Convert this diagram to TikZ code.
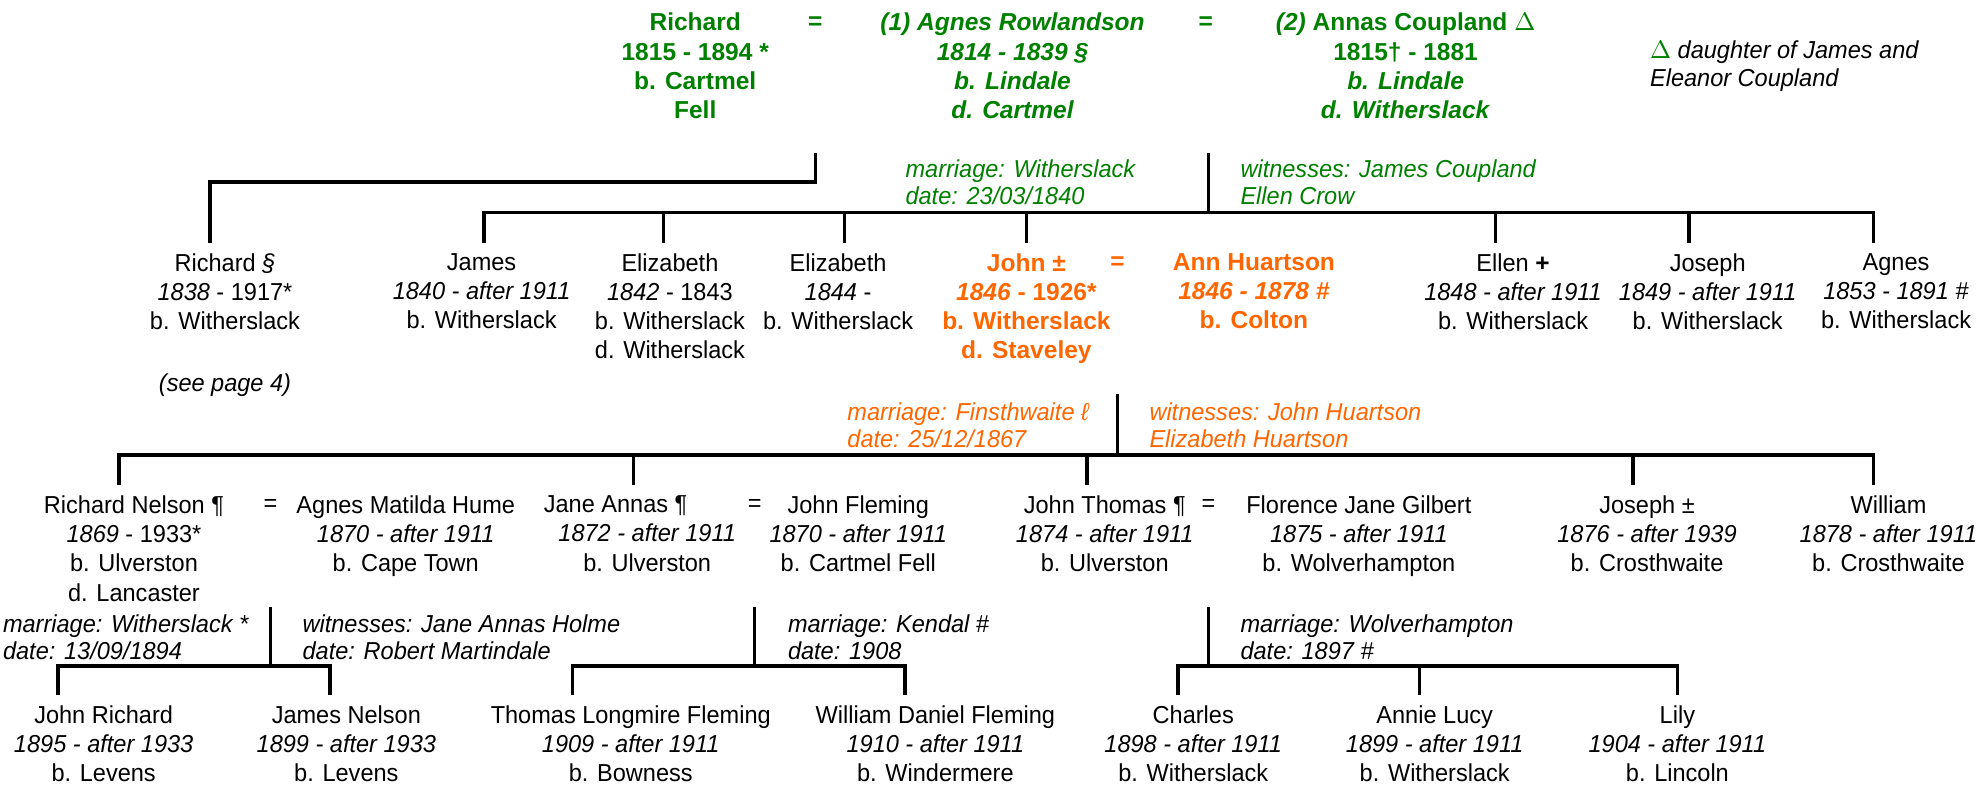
\documentclass[tikz,border=0pt]{standalone}
\usepackage{fontspec}
\setmainfont{Liberation Sans}[UprightFeatures={FakeStretch=0.96},
  ItalicFeatures={FakeStretch=0.96}]

\definecolor{wedgreen}{RGB}{0,128,0}
\definecolor{wedorange}{RGB}{255,102,0}

\begin{document}
\begin{tikzpicture}[x=0.5pt,y=-0.5pt,line width=1.4pt,
      base/.style={inner sep=0pt,font=\fontsize{9.7}{11.5}\selectfont},
      person/.style={base,anchor=north,align=center},
      elder/.style={person,text=wedgreen,font=\fontsize{9.7}{11.5}\selectfont\bfseries},
      heir/.style={person,text=wedorange,font=\fontsize{9.7}{11.5}\selectfont\bfseries},
      eqsign/.style={base,anchor=base},
      wed/.style={base,anchor=north west,align=left,
        font=\fontsize{9.7}{10.75}\selectfont\itshape},
      drop/.style={to path={-| (\tikztotarget)},shorten >=3.5pt}]

    \useasboundingbox (0,0) rectangle (1568,623);

    \node[elder] (rich1) at (550,9) {Richard\\1815 - 1894 *\\b. Cartmel\\Fell};
    \node[eqsign,text=wedgreen,font=\fontsize{9.7}{11.5}\selectfont\bfseries] (eq1) at (645,23) {=};
    \node[elder,font=\fontsize{9.7}{11.5}\selectfont\bfseries\itshape] (agnes1) at (801,9)
      {(1) Agnes Rowlandson\\1814 - 1839 §\\b. Lindale\\d. Cartmel};
    \node[eqsign,text=wedgreen,font=\fontsize{9.7}{11.5}\selectfont\bfseries] (eq2) at (954,23) {=};
    \node[elder] (annas1) at (1112,9)
      {\textit{(2)} Annas Coupland $\Delta$\\1815† - 1881\\\textit{b. Lindale}\\\textit{d. Witherslack}};
    \node[wed,font=\fontsize{9.7}{11}\selectfont\itshape] (delta) at (1304,31)
      {\textcolor{wedgreen}{$\Delta$} daughter of James and\\Eleanor Coupland};

    \coordinate (wed1) at (eq1 |- 0,121);
    \coordinate (wed2) at (956,121);
    \coordinate (kids1) at (956,168);
    \node[wed,text=wedgreen] (place1) at (715,125) {marriage: Witherslack\\date: 23/03/1840};
    \node[wed,text=wedgreen] (wit1) at (980,125) {witnesses: James Coupland\\Ellen Crow};

    \node[person] (rich2) at (178,199) {Richard \textit{§}\\\textit{1838} - 1917*\\b. Witherslack};
    \node[person,font=\fontsize{9.7}{11.5}\selectfont\itshape] (seepage) at (178,294) {(see page 4)};
    \node[person] (james) at (381,199) {James\\\textit{1840 - after 1911}\\b. Witherslack};
    \node[person] (eliz) at (530,199) {Elizabeth\\\textit{1842} - 1843\\b. Witherslack\\d. Witherslack};
    \node[person] (elizb) at (663,199) {Elizabeth\\\textit{1844} -\\b. Witherslack};
    \node[heir] (john) at (812,199) {John ±\\\textit{1846} - 1926*\\b. Witherslack\\d. Staveley};
    \node[eqsign,text=wedorange,font=\fontsize{9.7}{11.5}\selectfont\bfseries] (eq3) at (884,213) {=};
    \node[heir] (ann) at (992,199) {Ann Huartson\\\textit{1846 - 1878 \#}\\b. Colton};
    \node[person] (ellen) at (1197,199) {Ellen \textbf{+}\\\textit{1848 - after 1911}\\b. Witherslack};
    \node[person] (joseph) at (1351,199) {Joseph\\\textit{1849 - after 1911}\\b. Witherslack};
    \node[person] (agnes) at (1500,199) {Agnes\\\textit{1853 - 1891 \#}\\b. Witherslack};

    \coordinate (wed3) at (eq3 |- 0,312);
    \coordinate (kids2) at (eq3 |- 0,360);
    \node[wed,text=wedorange] (place2) at (669,317) {marriage: Finsthwaite ℓ\\date: 25/12/1867};
    \node[wed,text=wedorange] (wit2) at (908,317) {witnesses: John Huartson\\Elizabeth Huartson};

    \node[person] (rnelson) at (106,391) {Richard Nelson ¶\\\textit{1869} - 1933*\\b. Ulverston\\d. Lancaster};
    \node[eqsign] (eq4) at (214,405) {=};
    \node[person] (hume) at (321,391) {Agnes Matilda Hume\\\textit{1870 - after 1911}\\b. Cape Town};
    \node[person] (jane) at (512,391) {Jane Annas ¶\hspace*{25pt}\\\textit{1872 - after 1911}\\b. Ulverston};
    \node[eqsign] (eq5) at (597,405) {=};
    \node[person] (fleming) at (679,391) {John Fleming\\\textit{1870 - after 1911}\\b. Cartmel Fell};
    \node[person] (jthomas) at (874,391) {John Thomas ¶\\\textit{1874 - after 1911}\\b. Ulverston};
    \node[eqsign] (eq6) at (956,405) {=};
    \node[person] (gilbert) at (1075,391) {Florence Jane Gilbert\\\textit{1875 - after 1911}\\b. Wolverhampton};
    \node[person] (joseph2) at (1303,391) {Joseph ±\\\textit{1876 - after 1939}\\b. Crosthwaite};
    \node[person] (william) at (1494,391) {William\\\textit{1878 - after 1911}\\b. Crosthwaite};

    \coordinate (wed4) at (eq4 |- 0,480);
    \coordinate (kids3) at (eq4 |- 0,527);
    \coordinate (wed5) at (eq5 |- 0,480);
    \coordinate (kids4) at (eq5 |- 0,527);
    \coordinate (wed6) at (eq6 |- 0,480);
    \coordinate (kids5) at (eq6 |- 0,527);
    \node[wed] (place3) at (1,485) {marriage: Witherslack *\\date: 13/09/1894};
    \node[wed] (wit3) at (238,485) {witnesses: Jane Annas Holme\\date: Robert Martindale};
    \node[wed] (place4) at (622,485) {marriage: Kendal \#\\date: 1908};
    \node[wed] (place5) at (980,485) {marriage: Wolverhampton\\date: 1897 \#};

    \node[person] (jrichard) at (82,557) {John Richard\\\textit{1895 - after 1933}\\b. Levens};
    \node[person] (jnelson) at (274,557) {James Nelson\\\textit{1899 - after 1933}\\b. Levens};
    \node[person] (thomas) at (499,557) {Thomas Longmire Fleming\\\textit{1909 - after 1911}\\b. Bowness};
    \node[person] (wdaniel) at (740,557) {William Daniel Fleming\\\textit{1910 - after 1911}\\b. Windermere};
    \node[person] (charles) at (944,557) {Charles\\\textit{1898 - after 1911}\\b. Witherslack};
    \node[person] (annie) at (1135,557) {Annie Lucy\\\textit{1899 - after 1911}\\b. Witherslack};
    \node[person] (lily) at (1327,557) {Lily\\\textit{1904 - after 1911}\\b. Lincoln};

    \draw[shorten >=3.5pt] (wed1) -- ++(0,23) -| ([xshift=-6pt]rich2.north);
    \draw (wed2) -- (kids1);
    \path (kids1) edge[drop] ([xshift=1pt]james.north)
    edge[drop] ([xshift=-2.5pt]eliz.north)
    edge[drop] ([xshift=2.5pt]elizb.north)
    edge[drop] (john.north)
    edge[drop] ([xshift=-7pt]ellen.north)
    edge[drop] ([xshift=-7.5pt]joseph.north)
    edge[drop] ([xshift=-9pt]agnes.north);

    \draw (wed3) -- (kids2);
    \path (kids2) edge[drop] ([xshift=-6pt]rnelson.north)
    edge[drop] ([xshift=-5.5pt]jane.north)
    edge[drop] ([xshift=-7pt]jthomas.north)
    edge[drop] ([xshift=-5.5pt]joseph2.north)
    edge[drop] ([xshift=-6pt]william.north);

    \draw (wed4) -- (kids3);
    \path (kids3) edge[drop] ([xshift=-18pt]jrichard.north)
    edge[drop] ([xshift=-6.5pt]jnelson.north);
    \draw (wed5) -- (kids4);
    \path (kids4) edge[drop] ([xshift=-23pt]thomas.north)
    edge[drop] ([xshift=-12pt]wdaniel.north);
    \draw (wed6) -- (kids5);
    \path (kids5) edge[drop] ([xshift=-6pt]charles.north)
    edge[drop] ([xshift=-6pt]annie.north)
    edge[drop] (lily.north);
  \end{tikzpicture}
\end{document}
